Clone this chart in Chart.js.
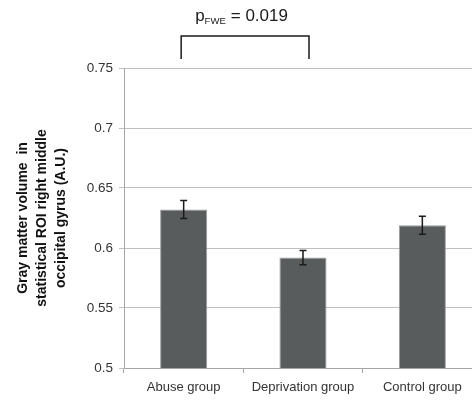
<!DOCTYPE html>
<html>
<head>
<meta charset="utf-8">
<script src="https://cdn.jsdelivr.net/npm/chart.js@4"></script>
<style>
  body { margin: 0; overflow: hidden; background: #fff; }
  #wrap { width: 482px; height: 400px; }
</style>
</head>
<body>
<div id="wrap"><canvas id="myChart"></canvas></div>
<script>
const categories = ['Abuse group', 'Deprivation group', 'Control group'];
const means = [0.632, 0.592, 0.619];
const errors = [0.0075, 0.006, 0.0075];
const yTitle = ['Gray matter volume  in', 'statistical ROI right middle', 'occipital gyrus (A.U.)'];
const pValue = '0.019';

// error bars drawn on top of the bars
const errorBars = {
    id: 'errorBars',
    afterDatasetsDraw(chart) {
        const ctx = chart.ctx;
        const x = chart.scales.x, y = chart.scales.y;
        ctx.save();
        ctx.strokeStyle = '#1a1a1a';
        ctx.lineWidth = 1.5;
        means.forEach((m, i) => {
            const px = x.getPixelForValue(i);
            const top = y.getPixelForValue(m + errors[i]);
            const bot = y.getPixelForValue(m - errors[i]);
            ctx.beginPath();
            ctx.moveTo(px, top); ctx.lineTo(px, bot);
            ctx.moveTo(px - 3.5, top); ctx.lineTo(px + 3.5, top);
            ctx.moveTo(px - 3.5, bot); ctx.lineTo(px + 3.5, bot);
            ctx.stroke();
        });
        ctx.restore();
    }
};

// significance bracket between abuse and deprivation groups
const bracket = {
    id: 'bracket',
    afterDraw(chart) {
        const ctx = chart.ctx;
        const x = chart.scales.x;
        const top = chart.chartArea.top;
        const x0 = x.getPixelForValue(0) - 2.5;
        const x1 = x.getPixelForValue(1) + 6;
        ctx.save();
        ctx.strokeStyle = '#1a1a1a';
        ctx.lineWidth = 1.5;
        ctx.beginPath();
        ctx.moveTo(x0, top - 9);
        ctx.lineTo(x0, top - 32);
        ctx.lineTo(x1, top - 32);
        ctx.lineTo(x1, top - 9);
        ctx.stroke();

        const base = top - 47;
        let cx = x0 + 14;
        ctx.fillStyle = '#1a1a1a';
        ctx.textBaseline = 'alphabetic';
        ctx.textAlign = 'left';
        ctx.font = '17px "Liberation Sans", sans-serif';
        ctx.fillText('p', cx, base);
        cx += ctx.measureText('p').width;
        ctx.font = '9.5px "Liberation Sans", sans-serif';
        ctx.fillText('FWE', cx, base + 3);
        cx += ctx.measureText('FWE').width + 5;
        ctx.font = '17px "Liberation Sans", sans-serif';
        ctx.fillText('= ' + pValue, cx, base);
        ctx.restore();
    }
};

const data = {
    labels: categories,
    datasets: [{
        data: means,
        backgroundColor: '#595c5d',
        borderColor: '#9c9e9e',
        borderWidth: 1,
        categoryPercentage: 1,
        barPercentage: 0.395
    }]
};

const config = {
    type: 'bar',
    data: data,
    options: {
        responsive: true,
        maintainAspectRatio: false,
        animation: false,
        layout: { padding: { top: 68, right: 0, bottom: 0, left: 0 } },
        plugins: {
            legend: { display: false },
            tooltip: { enabled: false }
        },
        scales: {
            x: {
                afterFit: s => { s.height = 32; },
                grid: { drawOnChartArea: false, drawTicks: true, tickLength: 5, color: '#a6a6a6' },
                border: { color: '#a6a6a6' },
                ticks: {
                    color: '#333',
                    padding: 7,
                    font: { family: '"Liberation Sans", sans-serif', size: 13 }
                }
            },
            y: {
                min: 0.5,
                max: 0.75,
                afterFit: s => { s.width = 124; },
                grid: { color: '#bfbfbf', tickLength: 5 },
                border: { color: '#a6a6a6' },
                ticks: {
                    stepSize: 0.05,
                    color: '#333',
                    padding: 6,
                    font: { family: '"Liberation Sans", sans-serif', size: 13.5 },
                    callback: v => String(+v.toFixed(2))
                },
                title: {
                    display: true,
                    text: yTitle,
                    color: '#111',
                    padding: { top: 13.5, bottom: 0 },
                    font: { family: '"Liberation Sans", sans-serif', size: 14, weight: 'bold', lineHeight: 1.357 }
                }
            }
        }
    },
    plugins: [errorBars, bracket]
};

window.onload = function() {
    const ctx = document.getElementById('myChart').getContext('2d');
    const myChart = new Chart(ctx, config);
};
</script>
</body>
</html>
